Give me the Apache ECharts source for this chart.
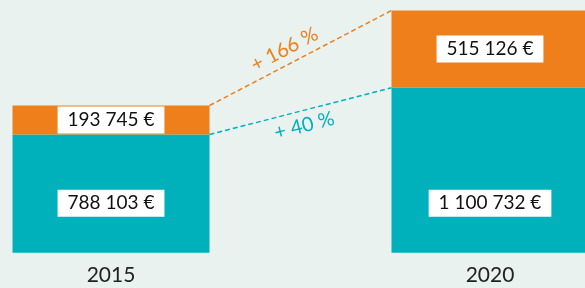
<!DOCTYPE html>
<html>
<head>
<meta charset="utf-8">
<script src="https://cdn.jsdelivr.net/npm/echarts@6/dist/echarts.min.js"></script>
<style>
  html, body { margin: 0; padding: 0; background: #e9f2ef; }
  #chart { width: 585px; height: 288px; }
</style>
</head>
<body>
<div id="chart"></div>
<script>
// data
const years = ['2015', '2020'];
const baseValues = [788103, 1100732];
const extraValues = [193745, 515126];
const growthLabels = ['+ 166 %', '+ 40 %'];

const ORANGE = '#ee7f1b';
const TEAL = '#00b1bb';
const FONT = 'Lato, "Open Sans", sans-serif';
const BAR_W = 197;

const fmt = v => String(v).replace(/\B(?=(\d{3})+(?!\d))/g, ' ') + ' €';

const boxLabel = {
  show: true,
  formatter: p => fmt(p.value),
  backgroundColor: '#fff',
  color: '#111',
  fontFamily: FONT,
  fontSize: 19,
  lineHeight: 19,
  padding: [4, 10]
};

const chart = echarts.init(document.getElementById('chart'));

chart.setOption({
  backgroundColor: '#e9f2ef',
  animation: false,
  grid: { left: 111, right: 95, top: 10.5, bottom: 35.3 },
  xAxis: {
    type: 'category',
    data: years,
    boundaryGap: false,
    axisLine: { show: false },
    axisTick: { show: false },
    axisLabel: { color: '#222', fontSize: 21, fontFamily: FONT, margin: 12 }
  },
  yAxis: {
    type: 'value',
    min: 0,
    max: baseValues[1] + extraValues[1],
    show: false,
    splitLine: { show: false }
  },
  series: [
    {
      type: 'bar',
      stack: 'total',
      barWidth: BAR_W,
      clip: false,
      itemStyle: { color: TEAL },
      label: Object.assign({}, boxLabel, { position: 'insideBottom', distance: 36 }),
      data: baseValues
    },
    {
      type: 'bar',
      stack: 'total',
      barWidth: BAR_W,
      clip: false,
      itemStyle: { color: ORANGE },
      label: Object.assign({}, boxLabel, { position: 'inside' }),
      data: extraValues
    }
  ]
});

// dashed connectors between the bar tops, positioned from the axis scales
function connector(v1, v2, color, text, t, side) {
  const a = chart.convertToPixel({ xAxisIndex: 0, yAxisIndex: 0 }, [years[0], v1]);
  const b = chart.convertToPixel({ xAxisIndex: 0, yAxisIndex: 0 }, [years[1], v2]);
  const x1 = a[0] + BAR_W / 2, y1 = a[1];
  const x2 = b[0] - BAR_W / 2, y2 = b[1];
  const ang = Math.atan2(y2 - y1, x2 - x1);
  const nx = Math.sin(ang), ny = -Math.cos(ang); // normal pointing up
  const off = 15 * side;
  return [
    {
      type: 'line',
      shape: { x1: x1, y1: y1, x2: x2, y2: y2 },
      style: { stroke: color, lineWidth: 1.5, lineDash: [5, 3] }
    },
    {
      type: 'text',
      x: x1 + (x2 - x1) * t + nx * off,
      y: y1 + (y2 - y1) * t + ny * off,
      rotation: -ang,
      style: {
        text: text,
        x: 0, y: 0,
        fill: color,
        font: '20px ' + FONT,
        textAlign: 'center',
        textVerticalAlign: 'middle',
        align: 'center',
        verticalAlign: 'middle'
      }
    }
  ];
}

chart.setOption({
  graphic: [].concat(
    connector(baseValues[0] + extraValues[0], baseValues[1] + extraValues[1], ORANGE, growthLabels[0], 0.45, 1),
    connector(baseValues[0], baseValues[1], TEAL, growthLabels[1], 0.5, -1)
  )
});

window.addEventListener('resize', () => chart.resize());
</script>
</body>
</html>
